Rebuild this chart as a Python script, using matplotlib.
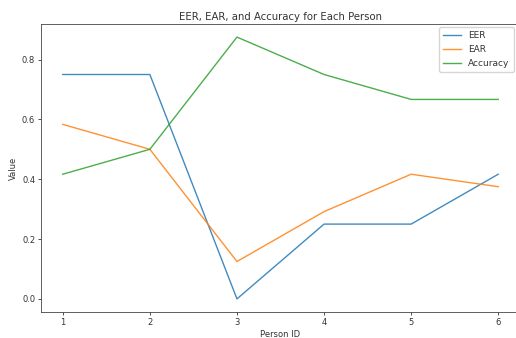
import matplotlib
matplotlib.use("Agg")
import matplotlib.pyplot as plt

person_ids = [1, 2, 3, 4, 5, 6]
eer = [0.75, 0.75, 0.0, 0.25, 0.25, 0.4167]
ear = [0.5833, 0.5, 0.125, 0.2917, 0.4167, 0.375]
accuracy = [0.4167, 0.5, 0.875, 0.75, 0.6667, 0.6667]

plt.rcParams['font.size'] = 6
plt.rcParams['axes.linewidth'] = 0.6
plt.rcParams['xtick.major.size'] = 2.2
plt.rcParams['ytick.major.size'] = 2.2
plt.rcParams['xtick.major.width'] = 0.6
plt.rcParams['ytick.major.width'] = 0.6
plt.rcParams['xtick.major.pad'] = 2
plt.rcParams['ytick.major.pad'] = 2
plt.rcParams['text.color'] = '#333333'
plt.rcParams['xtick.color'] = '#333333'
plt.rcParams['ytick.color'] = '#333333'
plt.rcParams['axes.labelcolor'] = '#333333'
plt.rcParams['axes.edgecolor'] = '#444444'

fig = plt.figure(figsize=(5.16, 3.38), dpi=100)
ax = fig.add_axes([41 / 516, 1 - 312 / 338, 479 / 516, 288 / 338])

ax.plot(person_ids, eer, label='EER', lw=1.0, alpha=0.85)
ax.plot(person_ids, ear, label='EAR', lw=1.0, alpha=0.85)
ax.plot(person_ids, accuracy, label='Accuracy', lw=1.0, alpha=0.85)

ax.set_title('EER, EAR, and Accuracy for Each Person', fontsize=7.3, pad=3)
ax.set_xlabel('Person ID', labelpad=2)
ax.set_ylabel('Value', labelpad=3)
ax.legend(loc='upper right', bbox_to_anchor=(0.987, 0.99), borderaxespad=0,
          fontsize=6.5, handlelength=2.0, borderpad=0.45, labelspacing=0.55)

fig.savefig('out.png', dpi=100)
